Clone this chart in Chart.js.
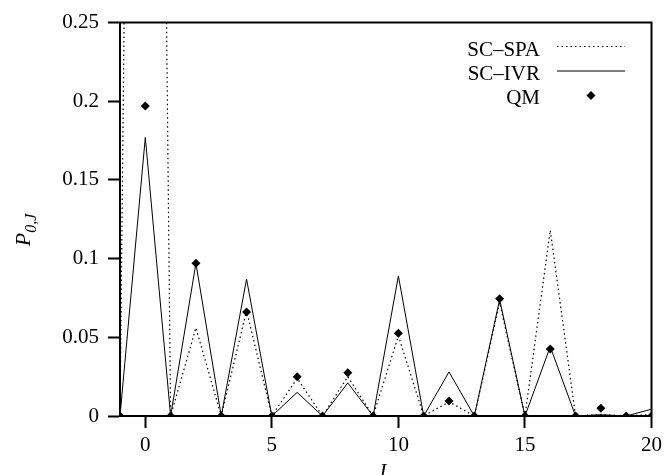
<!DOCTYPE html>
<html>
<head>
<meta charset="utf-8">
<title>P0,J vs J</title>
<script src="https://cdn.jsdelivr.net/npm/chart.js@4.4.0/dist/chart.umd.min.js"></script>
<style>
  html, body { margin: 0; padding: 0; background: #fff; }
  #wrap { width: 667px; height: 475px; }
</style>
</head>
<body>
<div id="wrap"><canvas id="myChart" width="667" height="475"></canvas></div>
<script>
// values
var J = [-1, 0, 1, 2, 3, 4, 5, 6, 7, 8, 9, 10, 11, 12, 13, 14, 15, 16, 17, 18, 19, 20];
var scSpa = [0, 1.55, 0, 0.056, 0, 0.067, 0, 0.024, 0, 0.025, 0, 0.051, 0, 0.009, 0, 0.072, 0, 0.118, 0, 0.001, 0, 0.001];
var scIvr = [0, 0.177, 0, 0.097, 0, 0.087, 0, 0.015, 0, 0.021, 0, 0.089, 0, 0.028, 0, 0.074, 0, 0.044, 0, 0.0008, 0, 0.0043];
var qm    = [0, 0.197, 0, 0.097, 0, 0.066, 0, 0.025, 0, 0.0275, 0, 0.0525, 0, 0.0095, 0, 0.0745, 0, 0.0425, 0, 0.0049, 0, 0];
var xTicks = [0, 5, 10, 15, 20];
var yTicks = [0, 0.05, 0.1, 0.15, 0.2, 0.25];
var yTickLabels = ['0', '0.05', '0.1', '0.15', '0.2', '0.25'];

var serif = '"Liberation Serif", "DejaVu Serif", serif';

function pts(vals) {
  return J.map(function (j, i) { return { x: j, y: vals[i] }; });
}

// frame, legend and axis titles
var decor = {
  id: 'decor',
  afterDraw: function (chart) {
    var ctx = chart.ctx, a = chart.chartArea;
    ctx.save();
    ctx.strokeStyle = '#000';
    ctx.lineWidth = 2;
    ctx.strokeRect(a.left, a.top, a.right - a.left, a.bottom - a.top);

    // legend
    ctx.fillStyle = '#000';
    ctx.font = '21px ' + serif;
    ctx.textAlign = 'right';
    ctx.textBaseline = 'alphabetic';
    var tx = 540, x0 = 557, x1 = 625;
    ctx.fillText('SC\u2013SPA', tx, 56);
    ctx.fillText('SC\u2013IVR', tx, 80);
    ctx.fillText('QM', tx, 104);
    ctx.lineWidth = 1;
    ctx.setLineDash([1.5, 3]);
    ctx.beginPath(); ctx.moveTo(x0, 46.5); ctx.lineTo(x1, 46.5); ctx.stroke();
    ctx.setLineDash([]);
    ctx.beginPath(); ctx.moveTo(x0, 71); ctx.lineTo(x1, 71); ctx.stroke();
    var cx = 591, cy = 95.5, r = 4.5;
    ctx.beginPath();
    ctx.moveTo(cx - r, cy); ctx.lineTo(cx, cy - r); ctx.lineTo(cx + r, cy); ctx.lineTo(cx, cy + r);
    ctx.closePath(); ctx.fill();

    // y title P_{0,J}
    ctx.save();
    ctx.translate(30, 230);
    ctx.rotate(-Math.PI / 2);
    ctx.textAlign = 'left';
    ctx.textBaseline = 'alphabetic';
    ctx.font = 'italic 22px ' + serif;
    var wP = ctx.measureText('P').width;
    ctx.font = 'italic 16px ' + serif;
    var wS = ctx.measureText('0,J').width;
    var start = -(wP + wS) / 2;
    ctx.font = 'italic 22px ' + serif;
    ctx.fillText('P', start, 0);
    ctx.font = 'italic 16px ' + serif;
    ctx.fillText('0,J', start + wP, 6);
    ctx.restore();

    // x title
    ctx.font = 'italic 21px ' + serif;
    ctx.textAlign = 'center';
    ctx.textBaseline = 'top';
    ctx.fillText('J', (a.left + a.right) / 2 - 4, 462);
    ctx.restore();
  }
};

var ctx = document.getElementById('myChart').getContext('2d');
var myChart = new Chart(ctx, {
  type: 'scatter',
  data: {
    datasets: [
      {
        label: 'QM',
        data: pts(qm),
        showLine: false,
        pointStyle: 'rectRot',
        pointRadius: 4.5,
        pointBorderWidth: 0,
        pointBackgroundColor: '#000',
        pointBorderColor: '#000'
      },
      {
        label: 'SC\u2013IVR',
        data: pts(scIvr),
        showLine: true,
        borderColor: '#000',
        borderWidth: 1,
        pointRadius: 0,
        tension: 0
      },
      {
        label: 'SC\u2013SPA',
        data: pts(scSpa),
        showLine: true,
        borderColor: '#000',
        borderWidth: 1.2,
        borderDash: [1.5, 3],
        pointRadius: 0,
        tension: 0
      }
    ]
  },
  options: {
    responsive: false,
    animation: false,
    devicePixelRatio: 1,
    layout: { padding: { top: 22.5, right: 12, left: 0, bottom: 0 } },
    plugins: { legend: { display: false }, tooltip: { enabled: false } },
    scales: {
      x: {
        type: 'linear',
        min: -1, max: 20,
        afterBuildTicks: function (s) { s.ticks = xTicks.map(function (v) { return { value: v }; }); },
        afterFit: function (s) { s.height = 59; },
        grid: { drawOnChartArea: false, drawTicks: true, tickLength: 12, tickColor: '#000', tickWidth: 2 },
        border: { display: true, color: '#000', width: 2 },
        ticks: { color: '#000', font: { family: serif, size: 21 }, padding: 5, maxRotation: 0, autoSkip: false }
      },
      y: {
        type: 'linear',
        min: 0, max: 0.25,
        afterBuildTicks: function (s) { s.ticks = yTicks.map(function (v) { return { value: v }; }); },
        afterFit: function (s) { s.width = 120; },
        grid: { drawOnChartArea: false, drawTicks: true, tickLength: 12, tickColor: '#000', tickWidth: 2 },
        border: { display: true, color: '#000', width: 2 },
        ticks: {
          color: '#000', font: { family: serif, size: 21 }, padding: 9, autoSkip: false,
          callback: function (v, i) { return yTickLabels[i]; }
        }
      }
    }
  },
  plugins: [decor]
});
</script>
</body>
</html>
